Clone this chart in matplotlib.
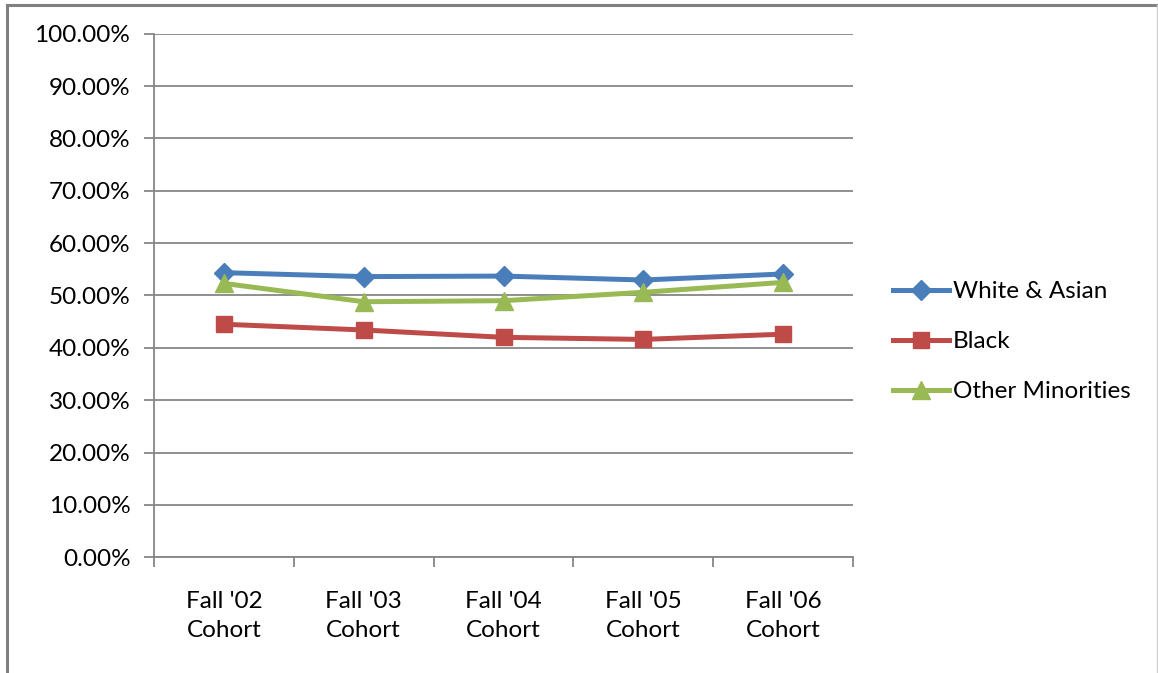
import numpy as np
import matplotlib
matplotlib.use("Agg")
from matplotlib import pyplot as plt
from matplotlib.ticker import FuncFormatter, FixedLocator
from matplotlib.lines import Line2D

plt.rcParams['font.family'] = ['Lato', 'DejaVu Sans']

# data
cohorts = ["Fall '02\nCohort", "Fall '03\nCohort", "Fall '04\nCohort", "Fall '05\nCohort", "Fall '06\nCohort"]
white_asian = [54.35, 53.6, 53.7, 52.95, 54.1]
black = [44.5, 43.4, 42.0, 41.6, 42.6]
other_min = [52.3, 48.8, 49.0, 50.6, 52.5]
series_names = ["White & Asian", "Black", "Other Minorities"]

fs = 17.5
fig = plt.figure(figsize=(11.58, 6.73), dpi=100)
ax = fig.add_axes([154/1158, 1-557.2/673, (853-154)/1158, (557.2-33.7)/673])

grid_col = "#868686"
x = np.arange(len(cohorts))
ax.plot(x, white_asian, color="#4A7EBB", lw=3.6, marker="D", ms=10, label=series_names[0], zorder=3)
ax.plot(x, black, color="#BE4B48", lw=3.6, marker="s", ms=12, label=series_names[1], zorder=3)
ax.plot(x, other_min, color="#98B954", lw=3.6, marker="^", ms=13, label=series_names[2], zorder=4)

ax.set_ylim(0, 100)
ax.set_xlim(-0.5, len(cohorts) - 0.5)
ax.set_yticks(np.arange(0, 101, 10))
ax.yaxis.set_major_formatter(FuncFormatter(lambda v, p: "%.2f%%" % v))
ax.grid(axis="y", color=grid_col, lw=1.3)
ax.set_axisbelow(True)

ax.set_xticks(x)
ax.set_xticklabels(cohorts, fontsize=fs, linespacing=1.5)
ax.xaxis.set_minor_locator(FixedLocator(np.arange(-0.5, len(cohorts), 1)))
ax.tick_params(axis="x", which="major", length=0, pad=24)
ax.tick_params(axis="x", which="minor", length=7, color=grid_col, width=1.3)
ax.tick_params(axis="y", length=7, color=grid_col, width=1.3, labelsize=fs, pad=10)

for s in ["top", "right"]:
    ax.spines[s].set_visible(False)
for s in ["left", "bottom"]:
    ax.spines[s].set_color(grid_col)
    ax.spines[s].set_linewidth(1.3)

leg = fig.legend(handles=ax.get_lines(), loc="upper left", bbox_to_anchor=(893/1158, 1-281/673),
                 frameon=False, fontsize=fs, handlelength=2.3, handletextpad=0.15,
                 labelspacing=1.2, borderpad=0, borderaxespad=0)

# outer chart frame
fig.add_artist(Line2D([7/1158, 7/1158], [0, 1-5/673], color="#808080", lw=2.2, transform=fig.transFigure))
fig.add_artist(Line2D([7/1158, 1], [1-5/673, 1-5/673], color="#808080", lw=2.2, transform=fig.transFigure))
fig.add_artist(Line2D([1157/1158, 1157/1158], [0, 1-5/673], color="#d0d0d0", lw=1, transform=fig.transFigure))

fig.savefig("out.png", dpi=100)
